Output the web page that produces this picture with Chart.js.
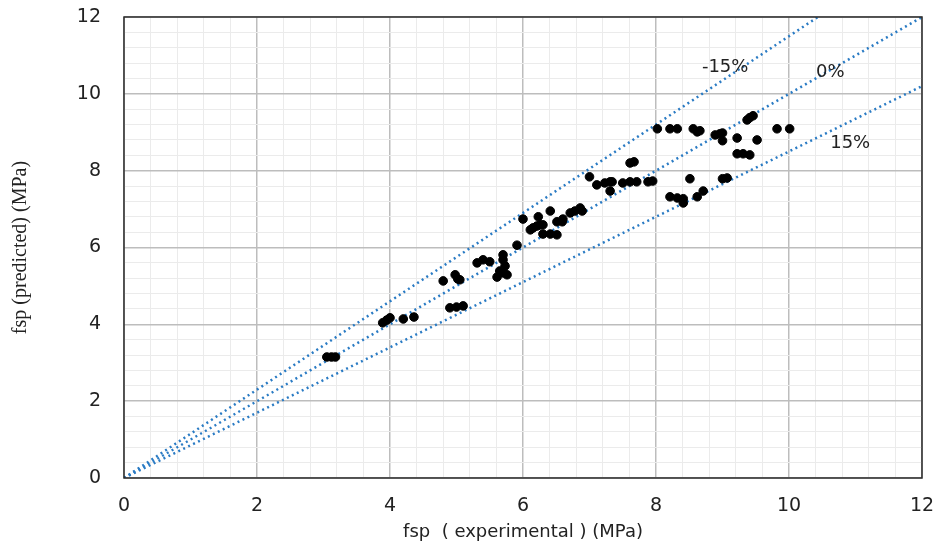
<!DOCTYPE html>
<html>
<head>
<meta charset="utf-8">
<script src="https://cdn.jsdelivr.net/npm/chart.js@4"></script>
<style>
  html, body { margin: 0; padding: 0; background: #ffffff; }
  #wrap { width: 939px; height: 544px; position: relative; }
</style>
</head>
<body>
<div id="wrap"><canvas id="c" width="939" height="544"></canvas></div>
<script>
// ---- data ----
const expValues = [
  3.05, 3.12, 3.18,
  3.89, 3.95, 4.00, 4.20, 4.36,
  4.80, 4.98, 5.02, 5.05,
  4.90, 5.00, 5.10,
  5.31, 5.40, 5.50,
  5.70, 5.70, 5.73, 5.65, 5.70, 5.76, 5.61,
  5.91,
  6.00, 6.23, 6.41,
  6.11, 6.15, 6.21, 6.26, 6.30,
  6.30, 6.41, 6.51,
  6.51, 6.59, 6.60,
  6.71, 6.78, 6.86, 6.89,
  7.00, 7.11, 7.23, 7.31, 7.34, 7.31,
  7.50, 7.61, 7.71, 7.88, 7.95,
  7.61, 7.67,
  8.02, 8.21, 8.32, 8.56, 8.62, 8.66,
  8.89, 8.96, 9.00, 9.00, 9.22, 9.52,
  9.37, 9.41, 9.46, 9.82, 10.01,
  9.22, 9.31, 9.41,
  8.21, 8.32, 8.41, 8.41, 8.51, 8.62, 8.71, 9.00, 9.07
];
const predValues = [
  3.15, 3.15, 3.15,
  4.04, 4.11, 4.17, 4.14, 4.19,
  5.13, 5.29, 5.18, 5.16,
  4.43, 4.45, 4.48,
  5.60, 5.68, 5.63,
  5.81, 5.68, 5.52, 5.39, 5.34, 5.29, 5.23,
  6.06,
  6.74, 6.80, 6.95,
  6.46, 6.51, 6.56, 6.59, 6.59,
  6.35, 6.35, 6.33,
  6.67, 6.67, 6.74,
  6.90, 6.95, 7.03, 6.95,
  7.84, 7.63, 7.68, 7.71, 7.71, 7.47,
  7.68, 7.71, 7.71, 7.71, 7.73,
  8.20, 8.23,
  9.09, 9.09, 9.09, 9.09, 9.01, 9.04,
  8.93, 8.96, 8.98, 8.78, 8.85, 8.80,
  9.32, 9.38, 9.43, 9.09, 9.09,
  8.44, 8.44, 8.41,
  7.32, 7.29, 7.27, 7.16, 7.79, 7.32, 7.47, 7.79, 7.81
];
const lineLabels = ['-15%', '0%', '15%'];
const lineSlopes = [1.15, 1.0, 0.85];
const lineLabelX = [9.04, 10.62, 10.92];
const lineLabelY = [10.68, 10.55, 8.72];
const axisMin = 0, axisMax = 12;
const majorStep = 2, minorStep = 0.4;
const xTitle = 'fsp  ( experimental ) (MPa)';
const yTitle = 'fsp (predicted) (MPa)';

// ---- build ----
const points = expValues.map((x, i) => ({ x: x, y: predValues[i] }));
const refDatasets = lineSlopes.map((s, i) => ({
  type: 'line',
  label: lineLabels[i],
  data: [{ x: 0, y: 0 }, { x: Math.min(axisMax, axisMax / s), y: Math.min(axisMax, axisMax * s) }],
  borderColor: '#2a7bc4',
  borderWidth: 2.5,
  borderDash: [2, 3.5],
  pointRadius: 0,
  fill: false,
  order: 2
}));

const isMajor = v => Math.abs(Math.round(v / majorStep) * majorStep - v) < 1e-6;

const tickFont = { family: 'DejaVu Sans', size: 19 };

const frameAndLabels = {
  id: 'frameAndLabels',
  afterDatasetsDraw(chart) {
    const { ctx, chartArea: a, scales } = chart;
    ctx.save();
    ctx.strokeStyle = '#2b2b2b';
    ctx.lineWidth = 1.5;
    ctx.strokeRect(a.left, a.top, a.right - a.left, a.bottom - a.top);
    ctx.fillStyle = '#222222';
    ctx.font = '18px "DejaVu Sans"';
    ctx.textAlign = 'center';
    ctx.textBaseline = 'middle';
    lineLabels.forEach((t, i) => {
      ctx.fillText(t, scales.x.getPixelForValue(lineLabelX[i]), scales.y.getPixelForValue(lineLabelY[i]));
    });
    ctx.restore();
  }
};

new Chart(document.getElementById('c'), {
  type: 'scatter',
  data: {
    datasets: [
      {
        label: 'data',
        data: points,
        backgroundColor: '#000000',
        borderColor: '#000000',
        pointRadius: 4.3,
        pointHoverRadius: 4.3,
        order: 1
      },
      ...refDatasets
    ]
  },
  options: {
    responsive: false,
    animation: false,
    devicePixelRatio: 1,
    layout: { padding: { left: 0, top: 17, right: 17, bottom: 0 } },
    plugins: { legend: { display: false }, tooltip: { enabled: false } },
    scales: {
      x: {
        type: 'linear', min: axisMin, max: axisMax,
        afterFit(s) { s.height = 66; s.paddingLeft = 0; s.paddingRight = 0; },
        border: { display: false },
        grid: {
          drawTicks: false, tickLength: 0,
          color: c => isMajor(c.tick.value) ? '#bdbdbd' : '#ebebeb',
          lineWidth: c => isMajor(c.tick.value) ? 1.5 : 1
        },
        ticks: {
          stepSize: minorStep, autoSkip: false, maxRotation: 0, padding: 17,
          color: '#222222', font: tickFont,
          callback: v => isMajor(v) ? String(Math.round(v)) : ''
        },
        title: {
          display: true, text: xTitle, color: '#222222',
          font: { family: 'DejaVu Sans', size: 18 }, padding: { top: 0, bottom: 1 }
        }
      },
      y: {
        type: 'linear', min: axisMin, max: axisMax,
        afterFit(s) { s.width = 124; s.paddingTop = 0; s.paddingBottom = 0; },
        border: { display: false },
        grid: {
          drawTicks: false, tickLength: 0,
          color: c => isMajor(c.tick.value) ? '#bdbdbd' : '#ebebeb',
          lineWidth: c => isMajor(c.tick.value) ? 1.5 : 1
        },
        ticks: {
          stepSize: minorStep, autoSkip: false, padding: 23,
          color: '#222222', font: tickFont,
          callback: v => isMajor(v) ? String(Math.round(v)) : ''
        },
        title: {
          display: true, text: yTitle, color: '#222222',
          font: { family: 'Liberation Sans Narrow', size: 20 }, padding: { top: 9, bottom: 0 }
        }
      }
    }
  },
  plugins: [frameAndLabels]
});
</script>
</body>
</html>
